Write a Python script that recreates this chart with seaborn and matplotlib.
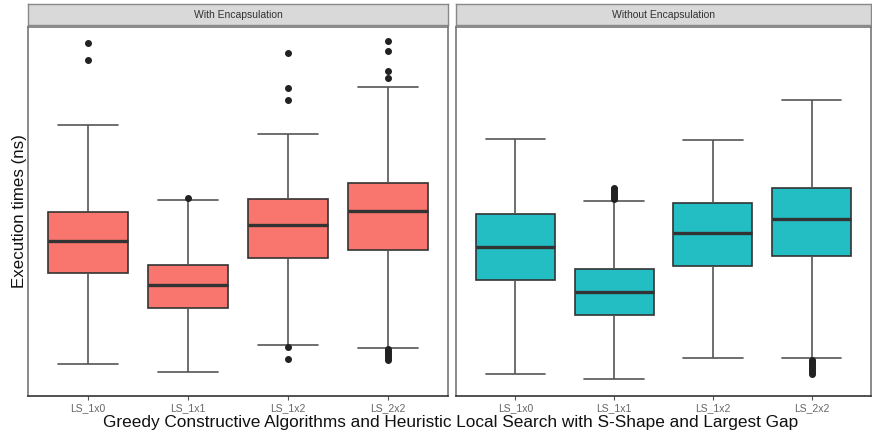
import matplotlib
matplotlib.use("Agg")
import matplotlib.pyplot as plt
import seaborn as sns
import numpy as np
import pandas as pd

# Box summaries (arbitrary units, no y scale shown).
algorithms = ["LS_1x0", "LS_1x1", "LS_1x2", "LS_2x2"]
panels = ["With Encapsulation", "Without Encapsulation"]

with_lo = [36.3, 28.0, 55.0, 51.7]
with_q1 = [126.3, 91.7, 141.7, 150.0]
with_med = [159.0, 114.3, 174.3, 188.3]
with_q3 = [187.7, 135.0, 200.0, 216.0]
with_hi = [274.7, 199.3, 265.0, 312.0]
with_out = [
    [339.3, 355.7],
    [201.0],
    [41.3, 52.5, 299.0, 310.7, 346.3],
    [40.0, 42.0, 44.0, 46.0, 47.5, 49.0, 50.5, 321.3, 328.3, 348.0, 358.3],
]

without_lo = [25.7, 20.7, 42.0, 42.0]
without_q1 = [119.7, 84.7, 133.7, 143.5]
without_med = [152.3, 108.0, 167.0, 181.0]
without_q3 = [185.3, 130.7, 196.7, 211.7]
without_hi = [260.3, 198.7, 259.7, 299.0]
without_out = [
    [],
    [200.3, 201.5, 203.0, 204.5, 206.0, 207.5, 209.0, 210.5, 211.7],
    [],
    [26.0, 28.0, 30.0, 32.0, 34.0, 35.5, 37.0, 38.5, 40.0],
]

colors = ["#F8766D", "#22BEC4"]


def expand(lo, q1, med, q3, hi, out):
    # repeat the quartiles so the boxplot statistics land exactly on them
    return [lo] + [q1] * 20 + [med] * 20 + [q3] * 20 + [hi] + list(out)


rows = []
summaries = [
    (with_lo, with_q1, with_med, with_q3, with_hi, with_out),
    (without_lo, without_q1, without_med, without_q3, without_hi, without_out),
]
for panel, summ in zip(panels, summaries):
    for i, algo in enumerate(algorithms):
        vals = expand(*(s[i] for s in summ))
        rows += [(panel, algo, v) for v in vals]
df = pd.DataFrame(rows, columns=["encapsulation", "algorithm", "time"])

sns.set_theme(style="white")
plt.rcParams["font.family"] = ["Liberation Sans", "DejaVu Sans"]

fig = plt.figure(figsize=(8.72, 4.38), dpi=100)
W, H = 872, 438
panel_px = [(28, 448), (456, 871)]
top, bottom = 27, 396
strip_top = 4

for k, panel in enumerate(panels):
    x0, x1 = panel_px[k]
    ax = fig.add_axes([x0 / W, 1 - bottom / H, (x1 - x0) / W, (bottom - top) / H])
    sub = df[df.encapsulation == panel]
    sns.boxplot(
        data=sub, x="algorithm", y="time", order=algorithms, ax=ax,
        color=colors[k], width=0.8, linecolor="#333333", linewidth=1.2,
        saturation=1, capwidths=0.6,
        medianprops=dict(linewidth=2.4, color="#333333"),
        whiskerprops=dict(color="#555555"),
        capprops=dict(color="#555555"),
        flierprops=dict(marker="o", markersize=4, markerfacecolor="#222222",
                        markeredgecolor="#222222"),
    )
    ax.set_xlim(-0.6, 3.6)
    ax.set_ylim(4, 372)
    ax.set_yticks([])
    ax.set_xlabel("")
    ax.set_ylabel("")
    ax.tick_params(axis="x", length=3, width=0.8, color="#555555",
                   labelsize=7.5, labelcolor="#666666", pad=2, bottom=True)
    for s in ax.spines.values():
        s.set_color("#777777")
        s.set_linewidth(1.2)
    ax.spines["bottom"].set_color("#333333")

    strip = fig.add_axes([x0 / W, 1 - (top - 2) / H, (x1 - x0) / W, (top - 2 - strip_top) / H])
    strip.set_facecolor("#D9D9D9")
    strip.set_xticks([])
    strip.set_yticks([])
    for s in strip.spines.values():
        s.set_color("#888888")
        s.set_linewidth(1.0)
    strip.text(0.5, 0.5, panel, ha="center", va="center", fontsize=7.5,
               color="#333333", transform=strip.transAxes)

    if k == 0:
        ax.set_ylabel("Execution times (ns)", fontsize=12.2, color="#111111", labelpad=1)

fig.text(451 / W, 1 - 423 / H,
         "Greedy Constructive Algorithms and Heuristic Local Search with S-Shape and Largest Gap",
         ha="center", va="center", fontsize=12.4, color="#111111")

fig.savefig("out.png", dpi=100)
